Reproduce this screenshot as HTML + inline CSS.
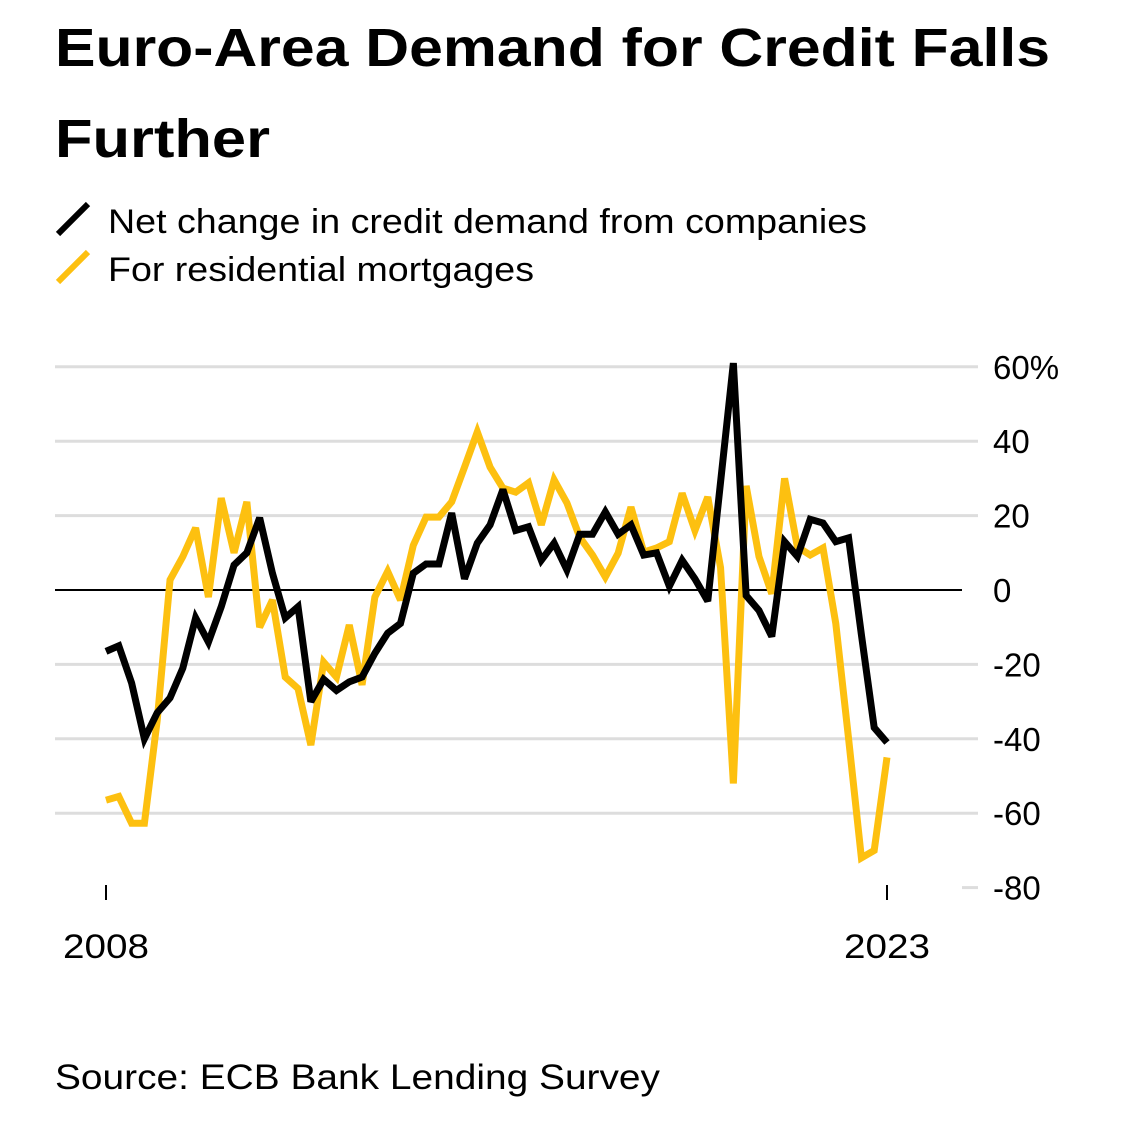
<!DOCTYPE html>
<html><head><meta charset="utf-8"><style>
body{margin:0;background:#fff;width:1125px;height:1122px;overflow:hidden;font-family:"Liberation Sans",Arial,sans-serif}
</style></head><body>
<svg width="1125" height="1122" viewBox="0 0 1125 1122" font-family="Liberation Sans, Arial, sans-serif">
<text x="55" y="66" font-size="54" font-weight="bold" fill="#000" textLength="995" lengthAdjust="spacingAndGlyphs">Euro-Area Demand for Credit Falls</text>
<text x="55" y="157" font-size="54" font-weight="bold" fill="#000" textLength="215" lengthAdjust="spacingAndGlyphs">Further</text>
<line x1="58" y1="234" x2="88" y2="204" stroke="#000" stroke-width="6"/>
<text x="108" y="233" font-size="34" fill="#000" textLength="759" lengthAdjust="spacingAndGlyphs">Net change in credit demand from companies</text>
<line x1="58" y1="282" x2="88" y2="252" stroke="#FDC010" stroke-width="6"/>
<text x="108" y="281" font-size="34" fill="#000" textLength="426" lengthAdjust="spacingAndGlyphs">For residential mortgages</text>
<g id="grid"></g><g id="series"></g>
<text x="55" y="1089" font-size="35" fill="#000" textLength="605" lengthAdjust="spacingAndGlyphs">Source: ECB Bank Lending Survey</text>
</svg>
<script>
const companies=[-16.5,-15,-25,-40,-33,-29,-21,-7.5,-14,-4.5,6.7,10,19.4,4.5,-7.5,-4.5,-30,-24,-27,-24.7,-23.4,-17,-11.6,-9,4.5,7,7,20.7,3,12.6,17.5,27,16,17,8,12.6,5.4,15,15,21,15,17.5,9.4,10,1,8,3,-3,29,61,-1.5,-5.5,-12.5,13,9,19,18,13,14,-12,-37,-41];
const mortgages=[-56.5,-55.5,-62.7,-62.7,-35,2.7,9,16.7,-1.9,24.7,10,23.7,-10,-2.7,-23.4,-26.5,-41.7,-19.4,-23.4,-9.4,-25.5,-1.9,5,-2.7,12,19.6,19.6,23.7,33,42.5,33,27.4,26.3,28.8,17.5,29.6,23.4,14.2,9.4,3.5,9.9,22.3,10.2,11.3,13,26,16,25,6,-52,28,9,-1,30,11.6,9.4,11.3,-9,-40,-72,-70,-45];
const yTicks=[60,40,20,0,-20,-40,-60,-80];
const yTickLabels=["60%","40","20","0","-20","-40","-60","-80"];
const xTickLabels=["2008","2023"];
const NS="http://www.w3.org/2000/svg";
const yScale=v=>590-(v)*3.72;
const xScale=i=>106+i*(781/(companies.length-1));
const grid=document.getElementById('grid'),ser=document.getElementById('series');
function mk(tag,attrs,parent){const e=document.createElementNS(NS,tag);for(const k in attrs)e.setAttribute(k,attrs[k]);parent.appendChild(e);return e;}
yTicks.forEach((t,k)=>{
  const y=yScale(t);
  let l;
  if(t===0){l=mk('line',{x1:55,x2:962,y1:y,y2:y,stroke:'#000','stroke-width':2},grid);}
  else if(t===-80){l=mk('line',{x1:962,x2:978,y1:y,y2:y,stroke:'#ddd','stroke-width':3},grid);}
  else{l=mk('line',{x1:55,x2:978,y1:y,y2:y,stroke:'#ddd','stroke-width':3},grid);}
  
  
  const tx=mk('text',{x:993,y:y+12,'font-size':33,fill:'#000'},grid);
  tx.textContent=yTickLabels[k];
  
  
});
[0,companies.length-1].forEach((i,k)=>{
  const x=xScale(i);
  const tk=mk('line',{x1:x,x2:x,y1:885,y2:900,stroke:'#000','stroke-width':2},grid);
  
  
  const tx=mk('text',{x:x,y:958,'font-size':34,fill:'#000','text-anchor':'middle',textLength:86,lengthAdjust:'spacingAndGlyphs'},grid);
  tx.textContent=xTickLabels[k];
  
  
});
function line(data,color,name){
  const p=mk('polyline',{points:data.map((v,i)=>xScale(i)+','+yScale(v)).join(' '),fill:'none',stroke:color,'stroke-width':7,'stroke-linejoin':'miter','stroke-miterlimit':3},ser);
  
  
}
line(mortgages,'#FDC010','mortgages-line');
line(companies,'#000','companies-line');
</script>
</body></html>
